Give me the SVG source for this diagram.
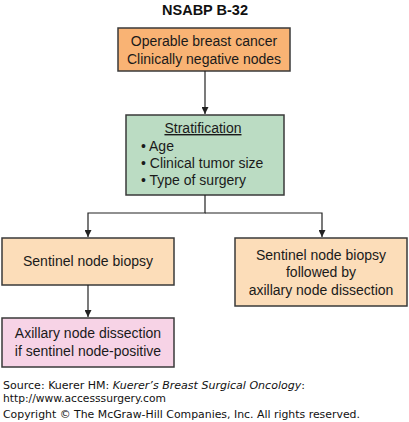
<svg xmlns="http://www.w3.org/2000/svg" width="409" height="422" viewBox="0 0 409 422">
<defs>
<marker id="ah" viewBox="0 0 10 10" refX="10" refY="5" markerWidth="7" markerHeight="7" markerUnits="userSpaceOnUse" orient="auto">
<path d="M0,0 L10,5 L0,10 z" fill="#222"/>
</marker>
<style>
.box{stroke:#3a3a3a;stroke-width:1.5}
.t{font-family:"Liberation Sans",Arial,sans-serif;font-size:14px;fill:#1a1a1a;text-anchor:middle}
.tl{font-family:"Liberation Sans",Arial,sans-serif;font-size:14px;fill:#1a1a1a}
.c{stroke:#222;stroke-width:1.2;fill:none}
.src{font-family:"DejaVu Sans",Verdana,sans-serif;font-size:10.5px;fill:#111}
</style>
</defs>
<rect width="409" height="422" fill="#fff"/>
<text x="205" y="15" font-family="Liberation Sans,Arial,sans-serif" font-size="14.5" font-weight="bold" text-anchor="middle" fill="#111">NSABP B-32</text>
<g id="n1">
<rect class="box" x="118" y="28" width="172" height="43" fill="#F9B374"/>
<text class="t" x="204" y="46">Operable breast cancer</text>
<text class="t" x="204" y="64">Clinically negative nodes</text>
</g>
<g id="n2">
<rect class="box" x="126" y="115" width="158" height="80" fill="#BBDCC3"/>
<text class="t" x="203" y="133" text-decoration="underline">Stratification</text>
<text class="tl" x="141" y="151">• Age</text>
<text class="tl" x="141" y="168">• Clinical tumor size</text>
<text class="tl" x="141" y="185">• Type of surgery</text>
</g>
<g id="n3">
<rect class="box" x="2" y="238" width="172" height="47" fill="#FCDDB9"/>
<text class="t" x="88" y="266">Sentinel node biopsy</text>
</g>
<g id="n4">
<rect class="box" x="235" y="238" width="172" height="68" fill="#FCDDB9"/>
<text class="t" x="321" y="260">Sentinel node biopsy</text>
<text class="t" x="321" y="277">followed by</text>
<text class="t" x="321" y="295">axillary node dissection</text>
</g>
<g id="n5">
<rect class="box" x="2" y="318" width="172" height="49" fill="#F7D3E6"/>
<text class="t" x="88" y="338">Axillary node dissection</text>
<text class="t" x="88" y="356">if sentinel node-positive</text>
</g>
<g id="connectors">
<line class="c" x1="205" y1="71" x2="205" y2="114" marker-end="url(#ah)"/>
<path class="c" d="M205,195 V213 H88 V237" marker-end="url(#ah)"/>
<path class="c" d="M205,213 H322 V237" marker-end="url(#ah)"/>
<line class="c" x1="88" y1="285" x2="88" y2="317" marker-end="url(#ah)"/>
</g>
<text class="src" x="3" y="389" textLength="302" lengthAdjust="spacingAndGlyphs">Source: Kuerer HM: <tspan font-style="italic">Kuerer’s Breast Surgical Oncology</tspan>:</text>
<text class="src" x="3" y="402" textLength="163" lengthAdjust="spacingAndGlyphs">http://www.accesssurgery.com</text>
<text class="src" x="3" y="418" textLength="357" lengthAdjust="spacingAndGlyphs">Copyright © The McGraw-Hill Companies, Inc. All rights reserved.</text>
</svg>
